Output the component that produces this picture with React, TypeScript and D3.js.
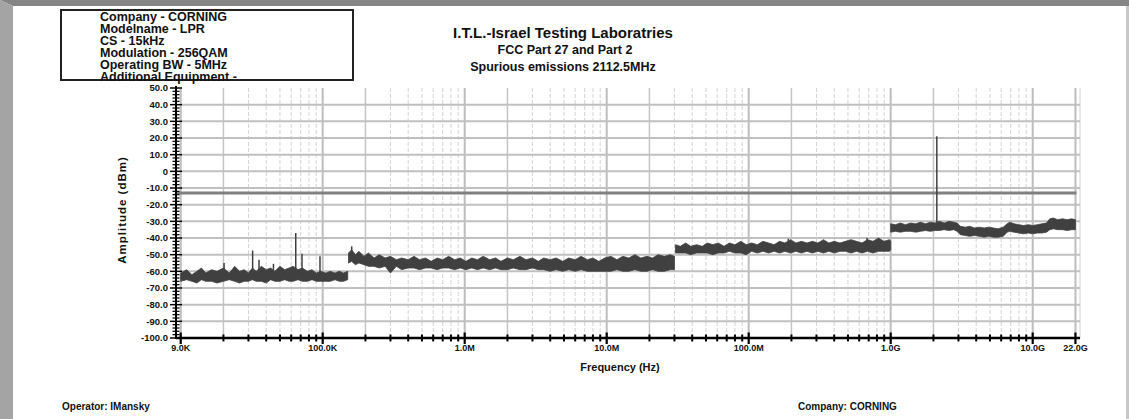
import React from "react";
import * as d3 from "d3";

// ---------- Header / labels ----------
const INFO_LINES = [
  "Company - CORNING",
  "Modelname - LPR",
  "CS - 15kHz",
  "Modulation - 256QAM",
  "Operating BW - 5MHz",
  "Additional Equipment -",
];
const TITLE = "I.T.L.-Israel Testing Laboratries";
const SUBTITLE1 = "FCC Part 27 and Part 2";
const SUBTITLE2 = "Spurious emissions 2112.5MHz";
const X_TITLE = "Frequency (Hz)";
const Y_TITLE = "Amplitude (dBm)";
const FOOT_LEFT = "Operator: IMansky";
const FOOT_RIGHT = "Company: CORNING";

// ---------- Axes ----------
const X_MAJOR = [1e4, 1e5, 1e6, 1e7, 1e8, 1e9, 1e10, 2e10];
const X_LABELS = ["9.0K", "100.0K", "1.0M", "10.0M", "100.0M", "1.0G", "10.0G", "22.0G"];
const X_MINOR_DECADES = [1e4, 1e5, 1e6, 1e7, 1e8, 1e9];
const Y_MIN = -100;
const Y_MAX = 50;
const LIMIT_DBM = -13;

// ---------- Trace envelopes (Hz, max dBm, min dBm) ----------
const SEG1_F = [10e3, 11e3, 12e3, 13e3, 14e3, 15e3, 16.5e3, 18e3, 20e3, 22e3, 24e3, 26e3, 28e3, 30e3, 32e3, 34e3, 37e3, 40e3, 43e3, 46e3, 50e3, 54e3, 58e3, 62e3, 67e3, 72e3, 78e3, 84e3, 90e3, 97e3, 105e3, 113e3, 122e3, 131e3, 140e3, 150e3];
const SEG1_HI = [-61, -59, -62, -60, -58, -61, -59, -60, -58, -61, -57, -60, -59, -61, -58, -60, -57, -59, -58, -60, -57, -59, -58, -57, -59, -58, -60, -59, -61, -60, -61, -60, -61, -60, -61, -60];
const SEG1_LO = [-66, -65, -66, -67, -65, -66, -66, -67, -66, -65, -66, -67, -66, -66, -65, -66, -66, -67, -65, -66, -66, -65, -66, -66, -65, -66, -66, -65, -66, -66, -66, -66, -65, -66, -66, -65];

const SEG2_F = [152e3, 160e3, 170e3, 180e3, 195e3, 210e3, 230e3, 250e3, 275e3, 300e3, 330e3, 360e3, 400e3, 440e3, 480e3, 530e3, 580e3, 640e3, 700e3, 770e3, 850e3, 930e3, 1.02e6, 1.12e6, 1.23e6, 1.35e6, 1.5e6, 1.65e6, 1.8e6, 2e6, 2.2e6, 2.45e6, 2.7e6, 3e6, 3.3e6, 3.6e6, 4e6, 4.4e6, 4.9e6, 5.4e6, 6e6, 6.6e6, 7.3e6, 8e6, 8.8e6, 9.7e6, 10.7e6, 11.8e6, 13e6, 14.3e6, 15.8e6, 17.4e6, 19.2e6, 21e6, 23e6, 25.5e6, 28e6, 30e6];
const SEG2_HI = [-49, -47, -50, -48, -51, -49, -52, -50, -52, -51, -53, -52, -53, -51, -53, -52, -54, -52, -53, -51, -53, -52, -54, -52, -53, -51, -53, -52, -54, -52, -53, -51, -53, -52, -54, -52, -53, -52, -54, -52, -53, -51, -53, -52, -54, -52, -51, -53, -51, -52, -50, -52, -51, -52, -50, -51, -50, -51];
const SEG2_LO = [-55, -54, -56, -55, -56, -57, -57, -58, -57, -61, -57, -59, -58, -58, -59, -58, -58, -59, -58, -58, -59, -58, -59, -58, -59, -58, -59, -58, -59, -59, -58, -59, -59, -58, -59, -59, -60, -59, -60, -59, -60, -59, -60, -60, -60, -60, -60, -59, -60, -60, -59, -60, -60, -59, -60, -60, -59, -59];

const SEG3_F = [30.5e6, 33e6, 36e6, 39e6, 43e6, 47e6, 51e6, 56e6, 61e6, 67e6, 73e6, 80e6, 88e6, 96e6, 105e6, 115e6, 126e6, 138e6, 151e6, 165e6, 180e6, 197e6, 215e6, 235e6, 257e6, 281e6, 307e6, 336e6, 367e6, 401e6, 439e6, 480e6, 525e6, 574e6, 628e6, 686e6, 750e6, 820e6, 897e6, 980e6, 1e9];
const SEG3_HI = [-44, -45, -43, -45, -44, -45, -43, -44, -43, -45, -43, -44, -42, -44, -43, -44, -42, -43, -44, -42, -43, -41, -43, -42, -43, -42, -43, -41, -43, -42, -43, -42, -41, -42, -43, -41, -42, -40, -42, -41, -42];
const SEG3_LO = [-49, -49, -49, -50, -49, -49, -49, -50, -49, -49, -48, -49, -49, -50, -48, -49, -48, -49, -48, -49, -48, -49, -48, -49, -48, -49, -48, -49, -48, -49, -48, -48, -49, -48, -49, -48, -49, -48, -48, -48, -47];

const SEG4_F = [1e9, 1.08e9, 1.17e9, 1.27e9, 1.38e9, 1.5e9, 1.62e9, 1.76e9, 1.9e9, 2.05e9, 2.2e9, 2.38e9, 2.57e9, 2.78e9, 2.93e9, 3.1e9, 3.35e9, 3.6e9, 3.9e9, 4.2e9, 4.55e9, 4.9e9, 5.3e9, 5.7e9, 6.2e9, 6.6e9, 6.9e9, 7.4e9, 8e9, 8.6e9, 9.3e9, 10e9, 10.8e9, 11.6e9, 12.5e9, 13.2e9, 14e9, 15e9, 16.2e9, 17.5e9, 18.8e9, 20e9];
const SEG4_HI = [-31.5, -32, -31, -32, -31, -31.5, -30.5, -31.5, -30.5, -31, -30, -31, -30, -30.5, -31, -33, -33.5, -33, -34, -33.5, -34, -33.5, -34, -34.5, -33.5, -31.5, -30.5, -31.5, -32, -32.5, -32, -32.5, -32, -31.5, -31, -28.5, -28, -29, -28.5, -29, -28.5, -29];
const SEG4_LO = [-36.5, -36, -36.5, -36, -36, -36.5, -36, -35.5, -36, -35.5, -35.5, -35, -35.5, -35, -36, -38, -38.5, -39, -38.5, -39, -39.5, -39, -39.5, -39.5, -39, -36.5, -36, -36.5, -37, -37.5, -37, -37.5, -37, -37, -36.5, -35, -34.5, -35, -35, -35.5, -35, -35];

// ---------- Narrow spikes (Hz, peak dBm, base dBm) ----------
const SPIKE_F = [20.2e3, 32.1e3, 35.6e3, 45e3, 64.6e3, 71.5e3, 95.7e3, 160e3, 190e6, 681e6, 2.1125e9];
const SPIKE_TOP = [-55, -47.5, -53, -55.5, -37, -49.5, -51, -45, -40.5, -40, 21];
const SPIKE_BASE = [-63, -63, -63, -63, -63, -63, -63, -52, -45, -45, -34];

const W = 1129;
const H = 419;
const FONT = "'Liberation Sans', Arial, Helvetica, sans-serif";
const TRACE = "#404040";

export default function App() {
  const x = d3.scaleLog().domain([1e4, 1e10]).range([180.7, 1032.7]);
  const y = d3.scaleLinear().domain([Y_MIN, Y_MAX]).range([338, 88]);
  const plotLeft = x(1e4);
  const plotRight = 1080;
  const axisX = 176;

  const area = d3
    .area<[number, number, number]>()
    .x((d) => x(d[0]))
    .y0((d) => y(d[2]))
    .y1((d) => y(d[1]));

  const segs = [
    [SEG1_F, SEG1_HI, SEG1_LO],
    [SEG2_F, SEG2_HI, SEG2_LO],
    [SEG3_F, SEG3_HI, SEG3_LO],
    [SEG4_F, SEG4_HI, SEG4_LO],
  ].map(([f, hi, lo]) => f.map((v, i) => [v, hi[i], lo[i]] as [number, number, number]));

  const minor: { f: number; m: number }[] = [];
  X_MINOR_DECADES.forEach((d) => {
    for (let m = 2; m <= 9; m++) minor.push({ f: d * m, m });
  });

  const yMajor = d3.range(Y_MIN, Y_MAX + 1, 10);
  const yMinor = d3.range(Y_MIN, Y_MAX + 1, 2).filter((v) => v % 10 !== 0);
  const fmtY = (v: number) => (v === 0 ? "0" : v.toFixed(1));

  return (
    <svg
      width={W}
      height={H}
      style={{ position: "absolute", left: 0, top: 0, background: "#fff" }}
      fontFamily={FONT}
    >
      <rect x={0} y={0} width={W} height={H} fill="#fff" />
      {/* frame */}
      <polygon points={`0,0 ${W},0 ${W},6 13,6`} fill="#858585" />
      <polygon points={`0,0 13,6 13,${H} 0,${H}`} fill="#a4a4a4" />
      <rect x={W - 3} y={6} width={3} height={H - 6} fill="#c8c8c8" />

      {/* info box */}
      <rect x={61} y={10} width={292} height={70} fill="#fff" stroke="#222" strokeWidth={2} />
      {INFO_LINES.map((t, i) => (
        <text key={t} x={100} y={21 + i * 12} fontSize={12.5} fontWeight="bold" fill="#111">
          {t}
        </text>
      ))}

      {/* titles */}
      <text x={563} y={38} textAnchor="middle" fontSize={15} fontWeight="bold" fill="#111">
        {TITLE}
      </text>
      <text x={565} y={54} textAnchor="middle" fontSize={12.5} fontWeight="bold" fill="#111">
        {SUBTITLE1}
      </text>
      <text x={563} y={70.5} textAnchor="middle" fontSize={12.5} fontWeight="bold" fill="#111">
        {SUBTITLE2}
      </text>

      {/* grid */}
      {minor.map(({ f, m }) => (
        <line
          key={"vm" + f}
          x1={x(f)}
          x2={x(f)}
          y1={88}
          y2={338}
          stroke={m === 2 ? "#c4c4c4" : "#d4d4d4"}
          strokeWidth={m === 2 ? 1.5 : 1}
          strokeDasharray={m === 2 ? undefined : "4,2"}
        />
      ))}
      {X_MAJOR.map((f) => (
        <line key={"vM" + f} x1={x(f)} x2={x(f)} y1={88} y2={338} stroke="#bdbdbd" strokeWidth={2} />
      ))}
      <line x1={plotRight} x2={plotRight} y1={88} y2={338} stroke="#d0d0d0" strokeWidth={1} />
      {yMajor
        .filter((v) => v > Y_MIN && v < Y_MAX)
        .map((v) => (
          <line key={"h" + v} x1={plotLeft} x2={plotRight} y1={y(v)} y2={y(v)} stroke="#c0c0c0" strokeWidth={2} />
        ))}

      {/* limit line */}
      <line x1={axisX} x2={x(2e10) + 1} y1={y(LIMIT_DBM)} y2={y(LIMIT_DBM)} stroke="#808080" strokeWidth={3} />

      {/* trace */}
      {segs.map((s, i) => (
        <path key={"seg" + i} d={area(s) || ""} fill={TRACE} stroke={TRACE} strokeWidth={0.8} />
      ))}
      {SPIKE_F.map((f, i) => (
        <line
          key={"sp" + i}
          x1={x(f)}
          x2={x(f)}
          y1={y(SPIKE_BASE[i])}
          y2={y(SPIKE_TOP[i])}
          stroke={TRACE}
          strokeWidth={1.5}
        />
      ))}

      {/* y axis */}
      <line x1={axisX} x2={axisX} y1={86} y2={339} stroke="#000" strokeWidth={2} />
      {yMajor.map((v) => (
        <line key={"yt" + v} x1={170} x2={182} y1={y(v)} y2={y(v)} stroke="#000" strokeWidth={1.5} />
      ))}
      {yMinor.map((v) => (
        <line key={"ym" + v} x1={172.5} x2={179.5} y1={y(v)} y2={y(v)} stroke="#000" strokeWidth={1.2} />
      ))}
      {yMajor.map((v) => (
        <text key={"yl" + v} x={168} y={y(v) + 3.2} textAnchor="end" fontSize={9.5} fontWeight="bold" fill="#111">
          {fmtY(v)}
        </text>
      ))}

      {/* x axis */}
      <line x1={axisX} x2={plotRight} y1={338} y2={338} stroke="#000" strokeWidth={2.5} />
      {minor.map(({ f }) => (
        <line key={"xm" + f} x1={x(f)} x2={x(f)} y1={334.5} y2={341.5} stroke="#000" strokeWidth={2} />
      ))}
      {X_MAJOR.map((f) => (
        <line key={"xt" + f} x1={x(f)} x2={x(f)} y1={332.5} y2={344} stroke="#000" strokeWidth={2.2} />
      ))}
      {X_MAJOR.map((f, i) => (
        <text key={"xl" + f} x={x(f)} y={351} textAnchor="middle" fontSize={9} fontWeight="bold" fill="#111">
          {X_LABELS[i]}
        </text>
      ))}

      {/* axis titles */}
      <text x={620} y={371} textAnchor="middle" fontSize={11} fontWeight="bold" fill="#111">
        {X_TITLE}
      </text>
      <text
        transform={`translate(125.5,210) rotate(-90)`}
        textAnchor="middle"
        fontSize={11.5}
        fontWeight="bold"
        letterSpacing={1}
        fill="#111"
      >
        {Y_TITLE}
      </text>

      {/* footer */}
      <text x={62} y={410} fontSize={10} fontWeight="bold" fill="#111">
        {FOOT_LEFT}
      </text>
      <text x={798} y={410} fontSize={10} fontWeight="bold" fill="#111">
        {FOOT_RIGHT}
      </text>
    </svg>
  );
}
